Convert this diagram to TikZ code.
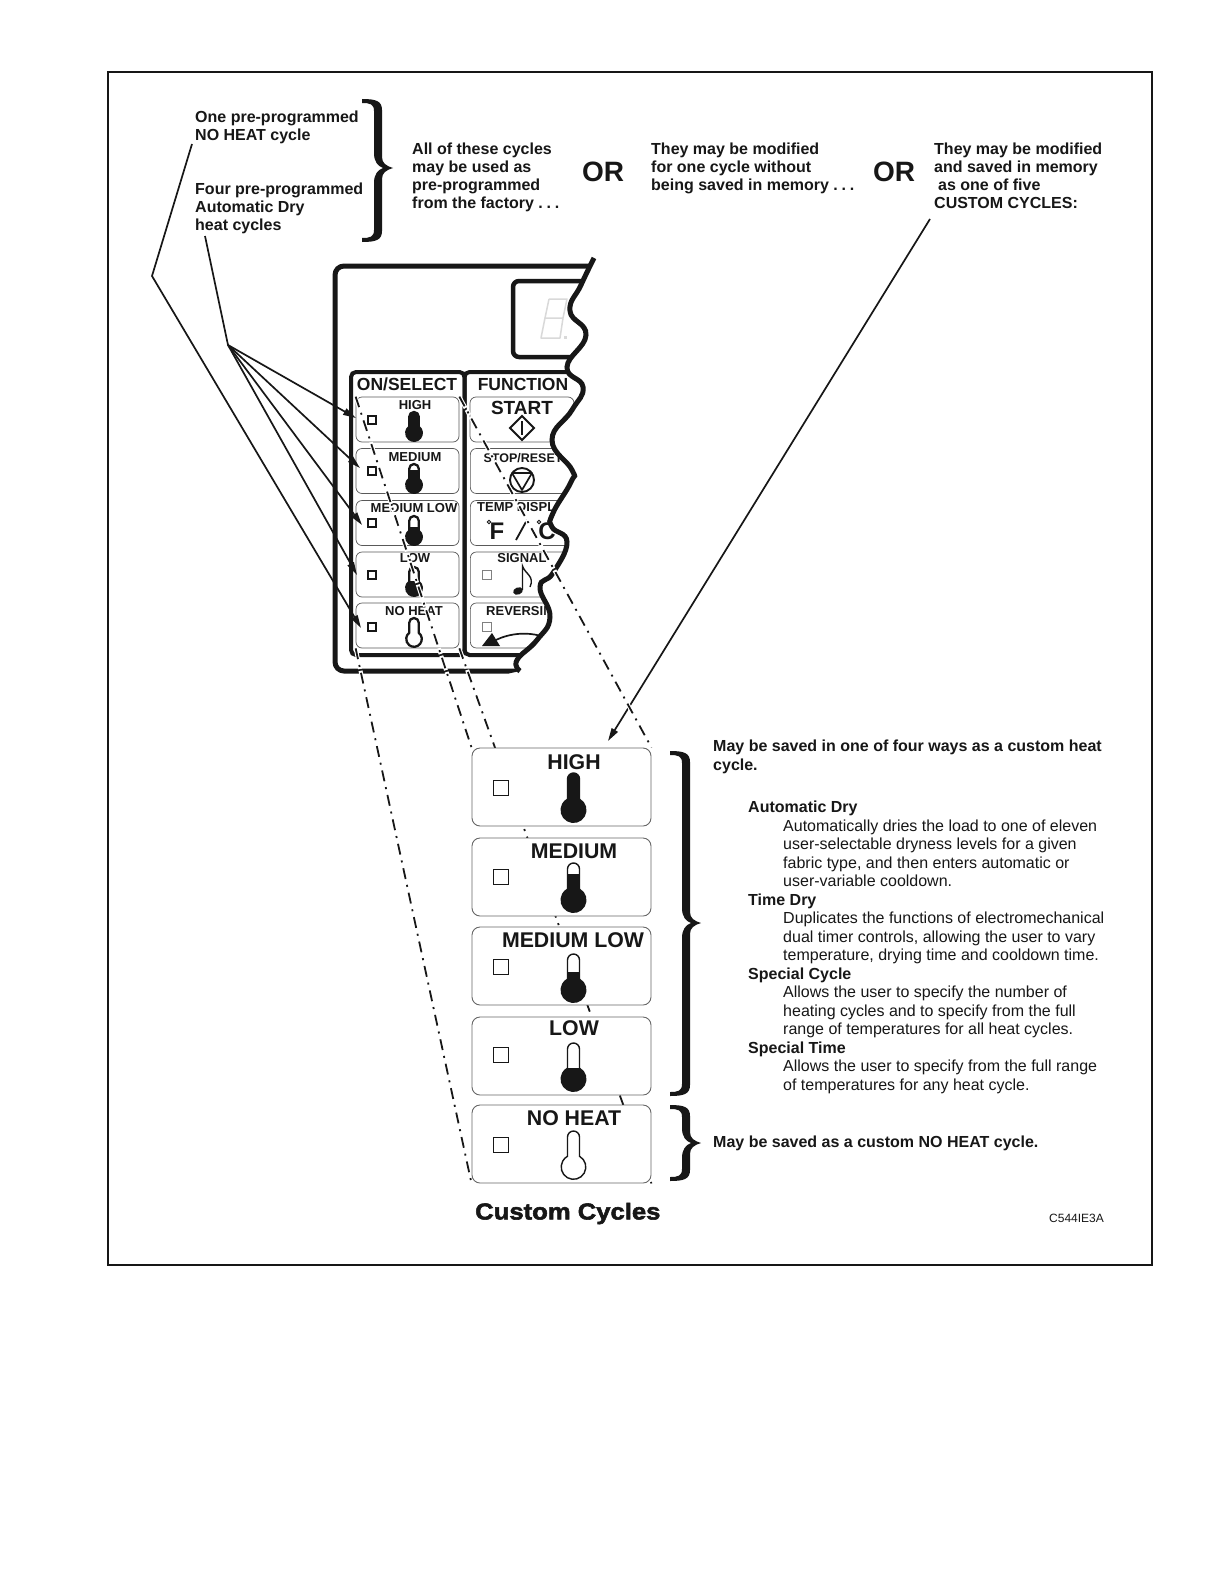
\documentclass[tikz,border=0pt]{standalone}
\usepackage{fontspec}
\setmainfont{Liberation Sans}
\newfontfamily\heavyfont[FakeBold=2.4,FakeStretch=1.115]{Liberation Sans Bold}
\usetikzlibrary{arrows.meta}
\pgfdeclarelayer{dashlayer}
\pgfdeclarelayer{frontlayer}
\pgfsetlayers{main,dashlayer,frontlayer}
\definecolor{ink}{gray}{0.09}
\tikzset{
  bigbox/.style={draw=black!60,line width=0.9pt,fill=white,rounded corners=8pt,minimum width=179pt,minimum height=78pt,inner sep=0pt},
  smallbox/.style={draw=black!65,line width=0.7pt,rounded corners=6pt,minimum width=103pt,minimum height=45pt,inner sep=0pt},
  rightbox/.style={draw=black!65,line width=0.7pt,rounded corners=6pt,minimum width=104pt,minimum height=45pt,inner sep=0pt},
  lamp/.style={draw=ink,line width=2pt,minimum size=8pt,inner sep=0pt},
  graylamp/.style={draw=black!50,line width=0.8pt,minimum size=9pt,inner sep=0pt},
  biglamp/.style={draw=ink,line width=0.9pt,minimum size=15pt,inner sep=0pt},
  txt/.style={anchor=north west,inner sep=0pt,align=left,text=ink,font=\fontsize{16}{18}\selectfont\bfseries},
  bodytxt/.style={anchor=north west,inner sep=0pt,align=left,text=ink,font=\fontsize{16}{18.5}\selectfont},
  biglabel/.style={inner sep=0pt,text=ink,font=\fontsize{21.3}{24}\selectfont\bfseries},
  smalllabel/.style={inner sep=0pt,text=ink,font=\fontsize{13}{14}\selectfont\bfseries},
  orlabel/.style={inner sep=0pt,text=ink,font=\fontsize{28}{30}\selectfont\bfseries},
  pointer/.style={draw=ink,line width=1.7pt},
  arrowline/.style={pointer,-{Triangle[length=13pt,width=7pt]}},
  halo/.style={draw=white,line width=4pt,dash pattern=on 15pt off 2pt on 6pt off 2pt,dash phase=2pt},
  dashline/.style={draw=ink,line width=1.8pt,dash pattern=on 11pt off 6pt on 2pt off 6pt},
}
\newcommand\thermlw{1.4pt}
\newcommand\therm[7][ink]{%
  \pgfmathsetmacro\thd{sqrt(#6*#6-#5*#5)}%
  \pgfmathsetmacro\tha{acos(#5/#6)}%
  \begin{scope}
    \clip (#2-30,#7) rectangle (#2+30,#4+#6+3);
    \fill[#1] (#2-#5,#3+#5) arc[start angle=180,end angle=360,radius=#5] -- (#2+#5,#4-\thd) arc[start angle=-\tha,end angle=180+\tha,radius=#6] -- cycle;
  \end{scope}
  \draw[#1,line width=\thermlw] (#2-#5,#3+#5) arc[start angle=180,end angle=360,radius=#5] -- (#2+#5,#4-\thd) arc[start angle=-\tha,end angle=180+\tha,radius=#6] -- cycle;
}
\newcommand\curly[4]{% x, top, mid, bottom
  \fill[ink] (#1,#2) .. controls (#1+14,#2) and (#1+20,#2+2) .. (#1+20,#2+11)
    -- (#1+20,#3-11) .. controls (#1+20,#3-5) and (#1+24,#3-2) .. (#1+31,#3)
    .. controls (#1+24,#3+2) and (#1+20,#3+5) .. (#1+20,#3+11)
    -- (#1+20,#4-11) .. controls (#1+20,#4-2) and (#1+14,#4) .. (#1,#4)
    -- (#1,#4-4) .. controls (#1+8,#4-4) and (#1+12,#4-5) .. (#1+12,#4-12)
    -- (#1+12,#3+15) .. controls (#1+12,#3+6) and (#1+16,#3+2) .. (#1+21,#3)
    .. controls (#1+16,#3-2) and (#1+12,#3-6) .. (#1+12,#3-15)
    -- (#1+12,#2+12) .. controls (#1+12,#2+5) and (#1+8,#2+4) .. (#1,#2+4) -- cycle;
}
\begin{document}
\begin{tikzpicture}[x=1pt,y=-1pt]
\useasboundingbox (0,0) rectangle (1224,1584);
\fill[white] (0,0) rectangle (1224,1584);
\draw[ink,line width=2pt] (108,72) rectangle (1152,1265);

% top texts
\node[txt] (t1) at (195,110.5) {One pre-programmed\\NO HEAT cycle};
\node[txt] (t2) at (195,182.5) {Four pre-programmed\\Automatic Dry\\heat cycles};
\node[txt] (t3) at (412,143) {All of these cycles\\may be used as\\pre-programmed\\from the factory .\hspace{3.8pt}.\hspace{3.8pt}.};
\node[orlabel] (or1) at (603,172) {OR};
\node[txt] (t4) at (651,143) {They may be modified\\for one cycle without\\being saved in memory .\hspace{3.8pt}.\hspace{3.8pt}.};
\node[orlabel] (or2) at (894,172) {OR};
\node[txt] (t5) at (934,143) {They may be modified\\and saved in memory\\\hspace*{4pt}as one of five\\CUSTOM CYCLES:};
\curly{362}{99}{168}{242}

% clipped panel contents
\begin{scope}
\clip plot[smooth,tension=.8] coordinates {(594,258) (581,285) (570,311) (586,335) (567,367) (583,387) (572,410) (552,440) (572,470) (571,482) (553,513) (552,527) (567,542) (553,573) (540,587) (550,617) (537,640) (517,660) (520,671)} -- (300,720) -- (300,240) -- cycle;
\draw[ink,line width=5pt,rounded corners=9pt] (620,266) -- (335,266) -- (335,671) -- (560,671);
\draw[ink,line width=4.5pt,rounded corners=6pt] (620,281) -- (513,281) -- (513,357) -- (620,357);
\draw[ink,line width=4pt,rounded corners=5pt] (351,655) rectangle (464.5,372);
\draw[ink,line width=4pt,rounded corners=5pt] (640,655) -- (464.5,655) -- (464.5,372) -- (640,372);
\draw[black!15,line width=1.5pt,line join=round] (549,299) -- (567,299) -- (563,318) -- (545,318) -- (541,338) -- (560,338) -- (563,318);
\draw[black!15,line width=1.5pt] (549,299) -- (545,318);
\fill[black!15] (564,336) rectangle (567,339);

\node[rightbox] (r1) at (522,419.5) {};
\node[rightbox,minimum width=130pt,anchor=west] (r2) at (470,471) {};
\node[rightbox,minimum width=130pt,anchor=west] (r3) at (470,523) {};
\node[rightbox,minimum width=130pt,anchor=west] (r4) at (470,574.5) {};
\node[rightbox,minimum width=130pt,anchor=west] (r5) at (470,625.5) {};
\node[smalllabel,font=\fontsize{12.5}{14}\selectfont\bfseries] (lstop) at (523,458.5) {STOP/RESET};
\node[smalllabel,anchor=west] (ltemp) at (477,507.5) {TEMP DISPLAY};
\node[smalllabel,anchor=west] (lrev) at (486,611) {REVERSING};
\node[inner sep=0pt,text=ink,font=\fontsize{24}{26}\selectfont\bfseries] (lc) at (547,531) {C};
\end{scope}

% small boxes, left column
\node[smallbox] (s1) at (407.5,419.5) {};
\node[smallbox] (s2) at (407.5,471) {};
\node[smallbox] (s3) at (407.5,523) {};
\node[smallbox] (s4) at (407.5,574.5) {};
\node[smallbox] (s5) at (407.5,625.5) {};
\node[inner sep=0pt,text=ink,font=\fontsize{17.5}{19}\selectfont\bfseries] (lon) at (407,384) {ON/SELECT};
\node[inner sep=0pt,text=ink,font=\fontsize{17.5}{19}\selectfont\bfseries] (lfun) at (523,384) {FUNCTION};
\node[smalllabel] (sl1) at (415,405.5) {HIGH};
\node[smalllabel] (sl2) at (415,457.5) {MEDIUM};
\node[smalllabel] (sl3) at (414,508.5) {MEDIUM LOW};
\node[smalllabel] (sl4) at (415,558.5) {LOW};
\node[smalllabel] (sl5) at (414,611) {NO HEAT};
\node[lamp] (q1) at (372,419.5) {};
\node[lamp] (q2) at (372,471) {};
\node[lamp] (q3) at (372,523) {};
\node[lamp] (q4) at (372,574.5) {};
\node[lamp] (q5) at (372,626.5) {};
\renewcommand\thermlw{2.3pt}
\therm{414}{412}{433}{4.8}{7.8}{412}
\therm{414}{464}{485}{4.8}{7.8}{470}
\therm{414}{516}{537}{4.8}{7.8}{527}
\therm{414}{567}{588}{4.8}{7.8}{581}
\therm{414}{618}{639}{4.8}{7.8}{660}
\renewcommand\thermlw{1.4pt}

% function column symbols
\node[inner sep=0pt,text=ink,font=\fontsize{19}{21}\selectfont\bfseries] (lstart) at (522,408) {START};
\draw[ink,line width=1.9pt] (522,416) -- (534,428) -- (522,440) -- (510,428) -- cycle;
\draw[ink,line width=2.2pt] (522,421) -- (522,435);
\draw[ink,line width=1.9pt] (522,480) circle[radius=12];
\draw[ink,line width=1.7pt,line join=round] (512,473) -- (532,473) -- (522,490) -- cycle;
\node[inner sep=0pt,text=ink,font=\fontsize{24}{26}\selectfont\bfseries] (lf) at (497,531) {F};
\draw[ink,line width=0.9pt] (489,522) circle[radius=1.7];
\draw[ink,line width=0.9pt] (539,522) circle[radius=1.7];
\draw[ink,line width=1.8pt] (516,540) -- (527,520);
\node[smalllabel] (lsig) at (522,558.5) {SIGNAL};
\node[graylamp] (g1) at (486.5,574.5) {};
\node[graylamp] (g2) at (486.5,626.5) {};
\fill[ink,rotate around={20:(518,591)}] (518,591) ellipse[x radius=5,y radius=3.6];
\draw[ink,line width=1.4pt] (522.5,590) -- (522.5,566) .. controls (525,574) and (535,576) .. (530,587);
\fill[ink] (482,646) -- (492,633) -- (500,646) -- cycle;
\draw[ink,line width=1.7pt] (496,640) .. controls (510,633) and (528,632) .. (541,636);

% wavy torn edge
\draw[ink,line width=5pt] plot[smooth,tension=.8] coordinates {(594,258) (581,285) (570,311) (586,335) (567,367) (583,387) (572,410) (552,440) (572,470) (571,482) (553,513) (552,527) (567,542) (553,573) (540,587) (550,617) (537,640) (517,660) (520,671)};

% big boxes
\begin{pgfonlayer}{frontlayer}
\node[bigbox] (b1) at (561.5,787) {};
\node[bigbox] (b2) at (561.5,877) {};
\node[bigbox] (b3) at (561.5,966) {};
\node[bigbox] (b4) at (561.5,1056) {};
\node[bigbox] (b5) at (561.5,1144) {};
\node[biglabel] (bl1) at (574,762.5) {HIGH};
\node[biglabel] (bl2) at (574,851.5) {MEDIUM};
\node[biglabel] (bl3) at (573,940.5) {MEDIUM LOW};
\node[biglabel] (bl4) at (574,1028.5) {LOW};
\node[biglabel] (bl5) at (574,1118.5) {NO HEAT};
\node[biglamp] (p1) at (500.5,787.5) {};
\node[biglamp] (p2) at (500.5,877) {};
\node[biglamp] (p3) at (500.5,966.5) {};
\node[biglamp] (p4) at (500.5,1055) {};
\node[biglamp] (p5) at (500.5,1145) {};
\therm{573.5}{773}{810}{6}{12.3}{773}
\therm{573.5}{863}{900}{6}{12.3}{874}
\therm{573.5}{954}{990}{6}{12.3}{972}
\therm{573.5}{1043}{1079}{6}{12.3}{1068}
\therm{573.5}{1131}{1167}{6}{12.3}{1200}
\node[inner sep=0pt,anchor=west,text=ink,font=\fontsize{23}{25}\heavyfont] (cc) at (475,1213.5) {Custom Cycles};
\end{pgfonlayer}

% dash-dot projection lines
\begin{pgfonlayer}{dashlayer}
\draw[halo] (s1.north west) -- (b1.north west);
\draw[dashline] (s1.north west) -- (b1.north west);
\draw[halo] (s1.north east) -- (b1.north east);
\draw[dashline] (s1.north east) -- (b1.north east);
\draw[halo] (s5.south west) -- (b5.south west);
\draw[dashline] (s5.south west) -- (b5.south west);
\draw[halo] (s5.south east) -- (b5.south east);
\draw[dashline] (s5.south east) -- (b5.south east);
\end{pgfonlayer}

% pointers
\coordinate (hubA) at (228,345);
\coordinate (tailA) at (205,236);
\coordinate (tailB) at (192,144);
\coordinate (elbowB) at (152,276);
\coordinate (tailC) at (930,219);
\coordinate (tipC) at (608,741);
\coordinate (tip1) at (356,418);
\coordinate (tip2) at (360,468);
\coordinate (tip3) at (362,525);
\coordinate (tip4) at (357,575);
\coordinate (tip5) at (361,628);
\draw[pointer] (tailA) -- (hubA);
\draw[arrowline] (hubA) -- (tip1);
\draw[arrowline] (hubA) -- (tip2);
\draw[arrowline] (hubA) -- (tip3);
\draw[arrowline] (hubA) -- (tip4);
\draw[arrowline] (tailB) -- (elbowB) -- (tip5);
\draw[arrowline] (tailC) -- (tipC);

% braces and right-hand text
\curly{670}{751}{923}{1096}
\curly{670}{1105}{1143}{1181}
\node[txt,font=\fontsize{16}{19}\selectfont\bfseries] (m1) at (713,740) {May be saved in one of four ways as a custom heat\\cycle.};
\node[bodytxt] (m2) at (748,801) {\textbf{Automatic Dry}\\
\hspace*{35pt}Automatically dries the load to one of eleven\\
\hspace*{35pt}user-selectable dryness levels for a given\\
\hspace*{35pt}fabric type, and then enters automatic or\\
\hspace*{35pt}user-variable cooldown.\\
\textbf{Time Dry}\\
\hspace*{35pt}Duplicates the functions of electromechanical\\
\hspace*{35pt}dual timer controls, allowing the user to vary\\
\hspace*{35pt}temperature, drying time and cooldown time.\\
\textbf{Special Cycle}\\
\hspace*{35pt}Allows the user to specify the number of\\
\hspace*{35pt}heating cycles and to specify from the full\\
\hspace*{35pt}range of temperatures for all heat cycles.\\
\textbf{Special Time}\\
\hspace*{35pt}Allows the user to specify from the full range\\
\hspace*{35pt}of temperatures for any heat cycle.};
\node[txt] (m3) at (713,1136) {May be saved as a custom NO HEAT cycle.};
\node[inner sep=0pt,anchor=west,text=ink,font=\fontsize{12}{13}\selectfont] (code) at (1049,1218) {C544IE3A};
\end{tikzpicture}
\end{document}
